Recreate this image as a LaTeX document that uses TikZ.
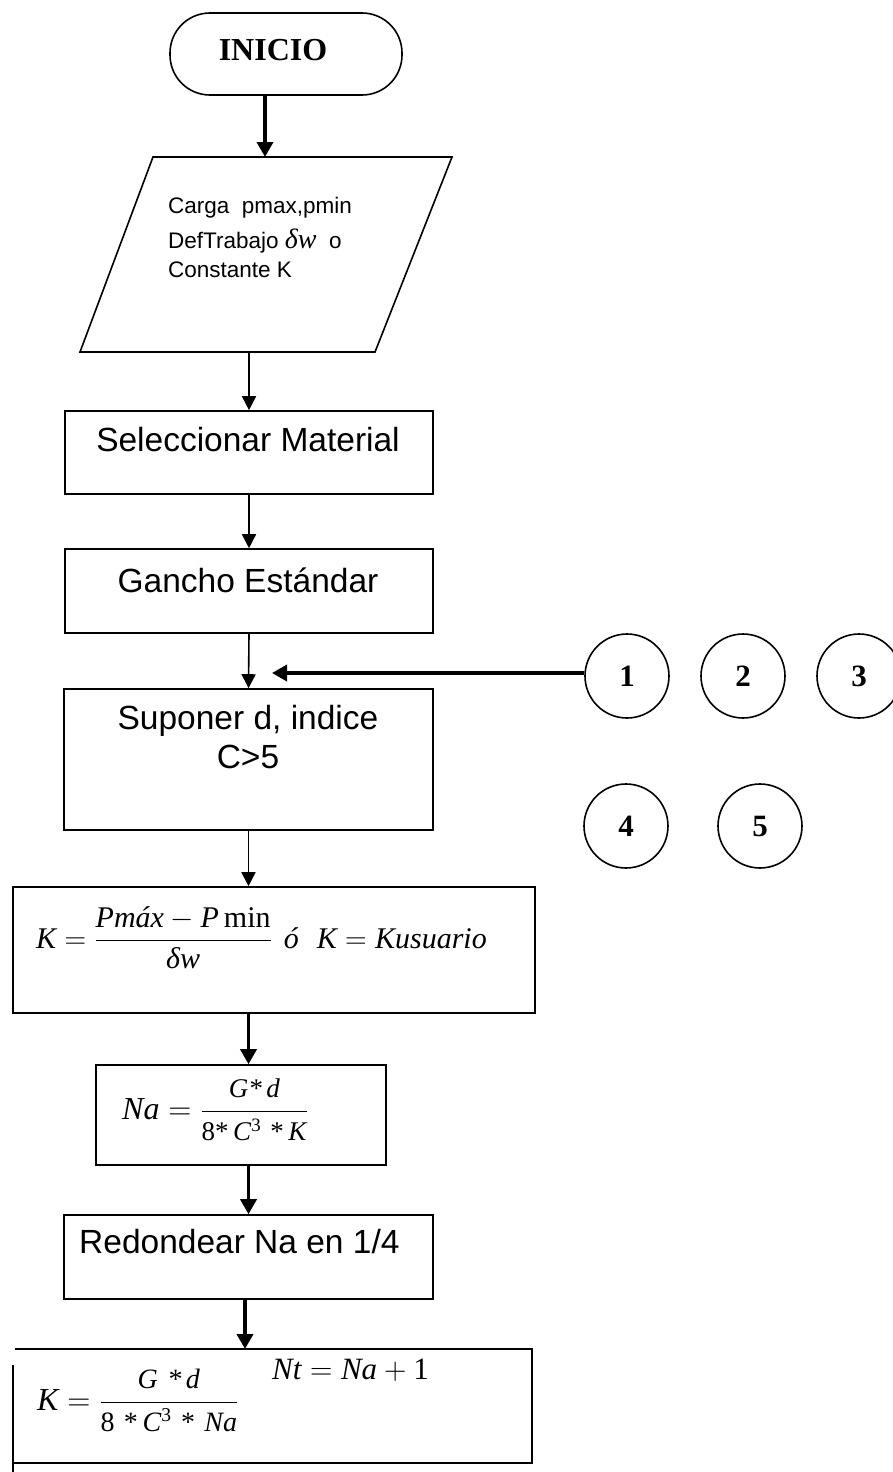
\RequirePackage{fix-cm}
\documentclass[tikz,border=0pt]{standalone}
\usepackage{amsmath}
\usepackage{fontspec}
\setmainfont{Liberation Serif}
\setsansfont{Liberation Sans}
\usetikzlibrary{arrows.meta}

\newcommand{\vi}[1]{\textit{#1}}
\newcommand{\vr}[1]{\textrm{#1}}
% fraction whose numerator and denominator are set in text at a given size
\newcommand{\sizedfrac}[3]{\dfrac{\text{\fontsize{#1}{#1}\selectfont #2}}{\text{\fontsize{#1}{#1}\selectfont #3}}}

\begin{document}
\begin{tikzpicture}[x=1pt,y=-1pt,
  outline/.style={draw, line width=1.6pt},
  box/.style={outline, inner sep=0pt},
  thinarrow/.style={line width=1.6pt, -{Triangle[width=14pt,length=14pt]}},
  thickarrow/.style={line width=3.6pt, -{Triangle[width=16pt,length=15pt]}},
  lbl/.style={font=\sffamily\fontsize{33.5}{38}\selectfont, inner sep=0pt},
  small/.style={font=\sffamily\fontsize{22.5}{26}\selectfont, inner sep=0pt},
  formula/.style={inner sep=0pt},
  num/.style={outline, circle, minimum size=84pt, inner sep=0pt,
              font=\bfseries\fontsize{31}{36}\selectfont},
]
\useasboundingbox (0,0) rectangle (892,1472);

% start terminal
\node[box, rounded corners=40pt, minimum width=232pt, minimum height=82pt] (inicio) at (286,54) {};
\node[inner sep=0pt, anchor=base, font=\bfseries\fontsize{32}{36}\selectfont] (inicioTxt) at (273,61) {INICIO};

% data input (parallelogram)
\coordinate (pTL) at (153,157);
\coordinate (pTR) at (452,157);
\coordinate (pBR) at (375,352);
\coordinate (pBL) at (80,352);
\draw[outline, line join=miter] (pTL) -- (pTR) -- (pBR) -- (pBL) -- cycle;
\coordinate (datosIn) at (265,157);
\coordinate (datosOut) at (249,352);
\node[small, anchor=base west] (d1) at (168,213) {Carga\ \ pmax,pmin};
\node[small, anchor=base west] (d2) at (168,248) {DefTrabajo {\rmfamily\itshape\fontsize{28}{30}\selectfont δw}\ \ o};
\node[small, anchor=base west] (d3) at (168,277) {Constante\ K};

% process boxes
\node[box, minimum width=368pt, minimum height=83pt] (sel) at (249,452.5) {};
\node[lbl, anchor=base] (selTxt) at (248,451) {Seleccionar Material};

\node[box, minimum width=368pt, minimum height=84pt] (gancho) at (249,591) {};
\node[lbl, anchor=base] (ganchoTxt) at (248,592) {Gancho Estándar};

\node[box, minimum width=369pt, minimum height=141pt] (sup) at (248.5,759.5) {};
\node[lbl, anchor=base] (supTxt1) at (248,729) {Suponer d, indice};
\node[lbl, anchor=base] (supTxt2) at (248,768) {C>5};

\node[box, minimum width=522pt, minimum height=126pt] (kbox) at (274,950) {};
\node[formula, anchor=base west] (kf) at (36,948) {\fontsize{30}{34}\selectfont
  $\vi{K} = \dfrac{\vi{Pmáx} - \vi{P}\,\vr{min}}{\vi{δw}}$\hspace{12pt}\vi{ó}\hspace{18pt}$\vi{K} = \vi{Kusuario}$};

\node[box, minimum width=290pt, minimum height=100pt] (nabox) at (241,1115) {};
\node[formula, anchor=base west] (naf) at (122,1119) {\fontsize{32}{36}\selectfont
  $\vi{Na} = \sizedfrac{27}{\itshape G*\,d}{8*\,\textit{C}\textsuperscript{3}\,\,*\,\textit{K}}$};

\node[box, minimum width=369pt, minimum height=84pt] (red) at (248.5,1257) {};
\node[lbl, anchor=base west] (redTxt) at (79,1253) {Redondear Na en 1/4};

% final box (open frame)
\coordinate (fTL) at (15,1349);
\coordinate (fTR) at (532,1349);
\coordinate (fBR) at (532,1463);
\coordinate (fBL) at (13,1463);
\coordinate (fL1) at (13,1365);
\coordinate (fL2) at (13,1472);
\coordinate (finIn) at (245,1349);
\draw[outline] (fTL) -- (fTR) -- (fBR) -- (fBL);
\draw[outline] (fL1) -- (fL2);
\node[formula, anchor=base west] (kf2) at (37,1410) {\fontsize{32}{36}\selectfont
  $\vi{K} = \sizedfrac{28}{\itshape G\,\,*\,d}{8\,\,*\,\textit{C}\textsuperscript{3}\,\,*\,\,\textit{Na}}$};
\node[formula, anchor=base west] (ntf) at (272,1379) {\fontsize{31}{36}\selectfont
  $\vi{Nt} = \vi{Na} + \vr{1}$};

% connector circles
\node[num] (c1) at (627,676) {1};
\node[num] (c2) at (743,676) {2};
\node[num] (c3) at (859,676) {3};
\node[num] (c4) at (626,826) {4};
\node[num] (c5) at (760,826) {5};

% flow connectors
\draw[thickarrow] (inicio.south -| datosIn) -- (datosIn);
\draw[thinarrow] (datosOut) -- (sel.north);
\draw[thinarrow] (sel.south) -- (gancho.north);
\draw[thinarrow] (gancho.south) -- (sup.north);
\draw[thinarrow] (sup.south) -- (sup.south |- kbox.north);
\draw[thickarrow] (kbox.south -| red.north) -- (nabox.north -| red.north);
\draw[thickarrow] (nabox.south -| red.north) -- (red.north);
\draw[thickarrow] (red.south -| finIn) -- (finIn);
\coordinate (join) at (272,673);
\draw[thickarrow] (c1.west |- join) -- (join);
\end{tikzpicture}
\end{document}
